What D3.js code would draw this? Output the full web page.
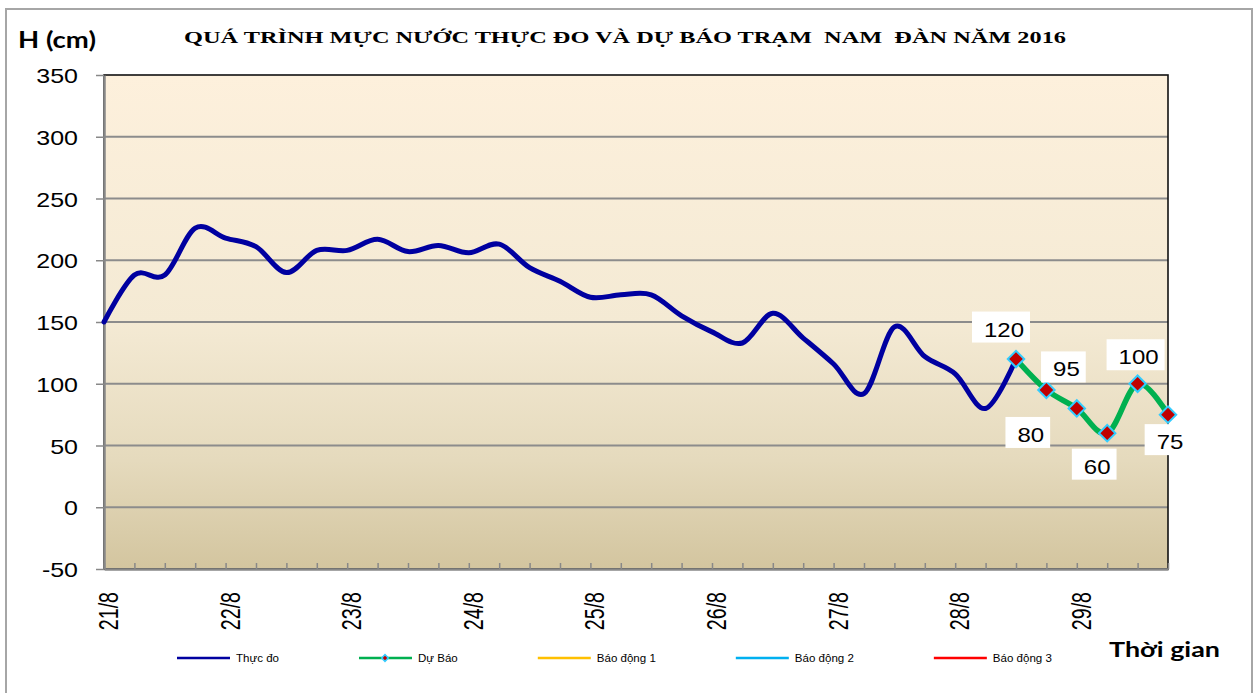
<!DOCTYPE html>
<html>
<head>
<meta charset="utf-8">
<script src="https://cdn.jsdelivr.net/npm/d3@7"></script>
<style>
  body { margin: 0; background: #fff; }
  svg { display: block; }
</style>
</head>
<body>
<div id="chart"></div>
<script>
// categories: 4 readings a day, 21/8 .. 29/8
const dayLabels = ["21/8", "22/8", "23/8", "24/8", "25/8", "26/8", "27/8", "28/8", "29/8"];
const slots = ["1h", "7h", "13h", "19h"];
const categories = dayLabels.flatMap((d) => slots.map((s) => d + " " + s));

// measured water level (cm), from 21/8 1h
const observed = [150, 188, 188, 226, 218, 211, 190, 208, 208, 217, 207, 212, 206, 213, 194, 183,
  170, 172, 172, 155, 142, 133, 157, 137, 116, 92, 146, 122, 108, 80, 120];

// forecast (cm), from 28/8 13h
const forecastStart = "28/8 13h";
const forecast = [120, 95, 80, 60, 100, 75];

const yTicks = [-50, 0, 50, 100, 150, 200, 250, 300, 350];
const legendItems = ["Thực đo", "Dự Báo", "Báo động 1", "Báo động 2", "Báo động 3"];
const legendColors = ["#0000A0", "#00B050", "#FFC000", "#00B0F0", "#FF0000"];

// where each forecast label box sits relative to its point
const labelOffsets = [[-15, -32], [17, -23], [-49, 24], [-13, 31], [-2, -29], [-1, 25]];

const width = 1258;
const height = 693;
const plot = { left: 104, right: 1168, top: 75, bottom: 569 };

const svg = d3
  .select("#chart")
  .append("svg")
  .attr("width", width)
  .attr("height", height);

// Outer chart border
svg
  .append("rect")
  .attr("x", 6)
  .attr("y", 9)
  .attr("width", 1246)
  .attr("height", 720)
  .attr("fill", "#fff")
  .attr("stroke", "#a6a6a6")
  .attr("stroke-width", 2);

const x = d3.scalePoint().domain(categories).range([plot.left, plot.right]);
const y = d3.scaleLinear().domain([-50, 350]).range([plot.bottom, plot.top]);

// Plot background gradient
const grad = svg
  .append("defs")
  .append("linearGradient")
  .attr("id", "bg")
  .attr("x1", 0)
  .attr("y1", 0)
  .attr("x2", 0)
  .attr("y2", 1);
grad.append("stop").attr("offset", "0%").attr("stop-color", "#fdf0dc");
grad.append("stop").attr("offset", "50%").attr("stop-color", "#f4ead4");
grad.append("stop").attr("offset", "78%").attr("stop-color", "#e5dabd");
grad.append("stop").attr("offset", "100%").attr("stop-color", "#d3c59f");

svg
  .append("rect")
  .attr("x", plot.left)
  .attr("y", plot.top)
  .attr("width", plot.right - plot.left)
  .attr("height", plot.bottom - plot.top)
  .attr("fill", "url(#bg)");

// Gridlines
svg
  .append("g")
  .selectAll("line")
  .data(yTicks.filter((v) => v > -50 && v < 350))
  .enter()
  .append("line")
  .attr("x1", plot.left)
  .attr("x2", plot.right)
  .attr("y1", (d) => y(d))
  .attr("y2", (d) => y(d))
  .attr("stroke", "#8c8c8c")
  .attr("stroke-width", 2);

// Plot border (top/right stay black)
svg
  .append("rect")
  .attr("x", plot.left)
  .attr("y", plot.top)
  .attr("width", plot.right - plot.left)
  .attr("height", plot.bottom - plot.top)
  .attr("fill", "none")
  .attr("stroke", "#111")
  .attr("stroke-width", 1.6);

// Y axis
const yAxis = svg
  .append("g")
  .attr("transform", `translate(${plot.left},0)`)
  .call(
    d3
      .axisLeft(y)
      .tickValues(yTicks)
      .tickSize(8)
      .tickSizeOuter(0)
      .tickFormat((d) => String(d))
  );
yAxis.select(".domain").attr("stroke", "#888").attr("stroke-width", 2.5);
yAxis.selectAll(".tick line").attr("stroke", "#888").attr("stroke-width", 1.5);
yAxis
  .selectAll(".tick text")
  .attr("x", -26 / 1.19)
  .attr("dy", null)
  .attr("y", 7.5)
  .attr("transform", "scale(1.19,1)")
  .attr("fill", "#000")
  .style("font", "21px 'Liberation Sans', Arial, sans-serif");

// X axis with a tick at every reading
const xAxis = svg
  .append("g")
  .attr("transform", `translate(0,${plot.bottom})`)
  .call(d3.axisBottom(x).tickSize(-6).tickSizeOuter(0).tickFormat(""));
xAxis.select(".domain").attr("stroke", "#888").attr("stroke-width", 2.5);
xAxis.selectAll(".tick line").attr("stroke", "#888").attr("stroke-width", 1.5);

// Day labels, rotated
const xLabels = svg
  .append("g")
  .attr("transform", `translate(0,${plot.bottom})`)
  .call(
    d3
      .axisBottom(x)
      .tickValues(categories.filter((c, i) => i % 4 === 0))
      .tickSize(0)
      .tickFormat((c) => c.split(" ")[0])
  );
xLabels.select(".domain").remove();
xLabels
  .selectAll(".tick text")
  .attr("y", null)
  .attr("dy", null)
  .attr("text-anchor", "end")
  .attr("transform", "translate(13.4,23) rotate(-90) scale(0.98,1.4)")
  .attr("fill", "#000")
  .style("font", "20px 'Liberation Sans', Arial, sans-serif");

// Series
const smooth = d3
  .line()
  .x((d) => x(d.t))
  .y((d) => y(d.v))
  .curve(d3.curveCardinal.tension(0));

const obsData = observed.map((v, i) => ({ t: categories[i], v: v }));
const fStart = categories.indexOf(forecastStart);
const fcData = forecast.map((v, i) => ({ t: categories[fStart + i], v: v }));

svg
  .append("path")
  .datum(obsData)
  .attr("d", smooth)
  .attr("fill", "none")
  .attr("stroke", legendColors[0])
  .attr("stroke-width", 5)
  .attr("stroke-linejoin", "round")
  .attr("stroke-linecap", "round");

svg
  .append("path")
  .datum(fcData)
  .attr("d", smooth)
  .attr("fill", "none")
  .attr("stroke", legendColors[1])
  .attr("stroke-width", 5.5)
  .attr("stroke-linejoin", "round");

const diamond = d3.symbol(d3.symbolSquare, 135);
svg
  .append("g")
  .selectAll("path")
  .data(fcData)
  .enter()
  .append("path")
  .attr("d", diamond)
  .attr("transform", (d) => `translate(${x(d.t)},${y(d.v)}) rotate(45)`)
  .attr("fill", "#c00000")
  .attr("stroke", "#33ccff")
  .attr("stroke-width", 2);

// Forecast labels in white boxes
const labels = svg
  .append("g")
  .selectAll("g")
  .data(fcData)
  .enter()
  .append("g")
  .attr("transform", (d, i) => {
    const cx = x(d.t) + labelOffsets[i][0];
    const cy = y(d.v) + labelOffsets[i][1];
    return `translate(${cx},${cy})`;
  });
labels.append("rect").attr("fill", "#fff");
labels
  .append("text")
  .attr("text-anchor", "middle")
  .attr("transform", "translate(3,9.5) scale(1.2,1)")
  .style("font", "20px 'Liberation Sans', Arial, sans-serif")
  .text((d) => d.v);
labels.each(function () {
  const w = d3.select(this).select("text").node().getComputedTextLength() * 1.2 + 18;
  d3.select(this)
    .select("rect")
    .attr("x", -w / 2)
    .attr("y", -15.5)
    .attr("width", w)
    .attr("height", 31);
});

// Titles
svg
  .append("text")
  .attr("x", 184)
  .attr("y", 43)
  .attr("textLength", 882)
  .attr("lengthAdjust", "spacingAndGlyphs")
  .style("white-space", "pre")
  .style("font", "bold 17.6px 'Liberation Serif', 'Times New Roman', serif")
  .text("QUÁ TRÌNH MỰC NƯỚC THỰC ĐO VÀ DỰ BÁO TRẠM  NAM  ĐÀN NĂM 2016");

svg
  .append("text")
  .attr("x", 18)
  .attr("y", 48)
  .attr("textLength", 78)
  .attr("lengthAdjust", "spacingAndGlyphs")
  .style("font", "bold 22px Lato, 'Open Sans', sans-serif")
  .text("H (cm)");

svg
  .append("text")
  .attr("x", 1109)
  .attr("y", 657)
  .attr("textLength", 111)
  .attr("lengthAdjust", "spacingAndGlyphs")
  .style("font", "bold 21.5px Lato, 'Open Sans', sans-serif")
  .text("Thời gian");

// Legend
const legend = svg.append("g").attr("transform", "translate(0,658)");
let lx = 177;
legendItems.forEach((name, i) => {
  const item = legend.append("g").attr("transform", `translate(${lx},0)`);
  item
    .append("line")
    .attr("x1", 0)
    .attr("x2", 53)
    .attr("stroke", legendColors[i])
    .attr("stroke-width", 2.5);
  if (i === 1) {
    item
      .append("path")
      .attr("d", d3.symbol(d3.symbolSquare, 22))
      .attr("transform", "translate(26,0) rotate(45)")
      .attr("fill", "#c00000")
      .attr("stroke", "#33ccff")
      .attr("stroke-width", 1.5);
  }
  const t = item
    .append("text")
    .attr("transform", "translate(59,4) scale(1.05,1)")
    .style("font", "11px 'Liberation Sans', Arial, sans-serif")
    .text(name);
  lx += 59 + t.node().getComputedTextLength() * 1.05 + 80;
});
</script>
</body>
</html>
